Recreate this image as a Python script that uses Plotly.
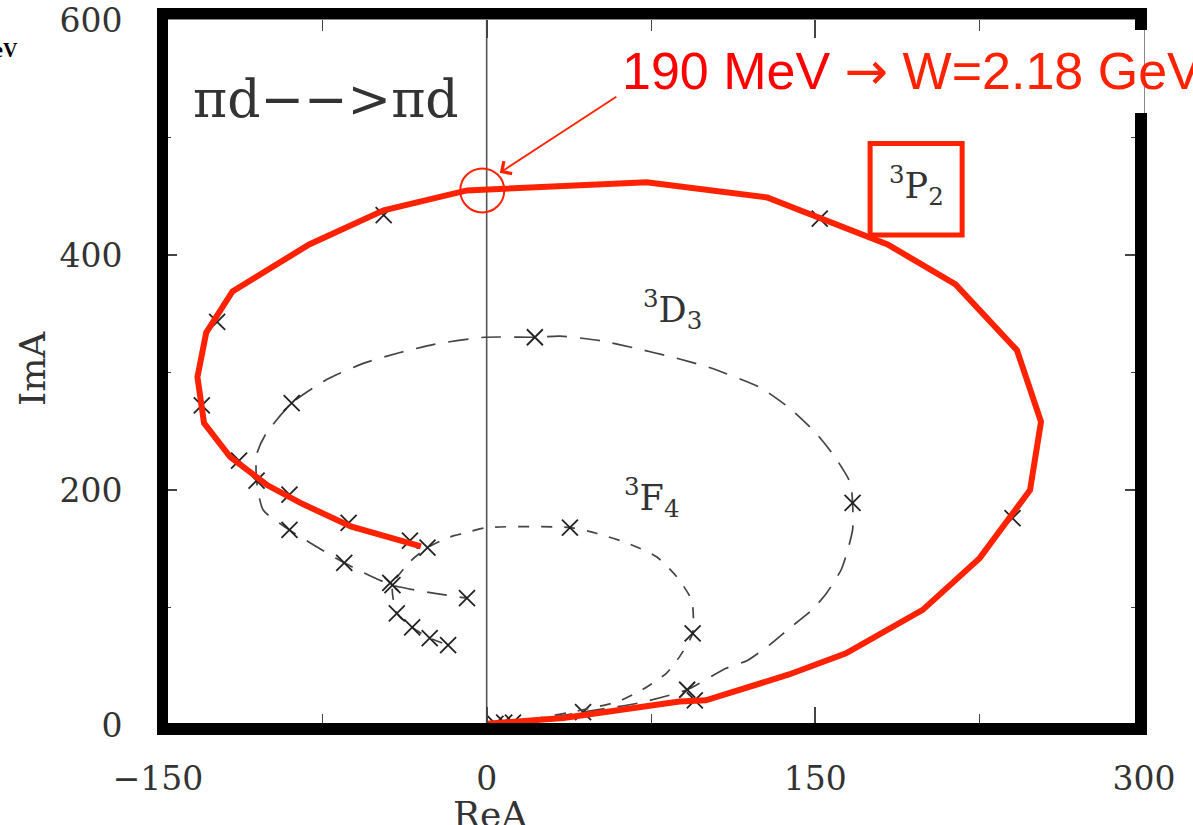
import plotly.graph_objects as go

# ---------------- data ----------------
# 3P2 partial-wave amplitude (red, traced)
p2_re = [0, 35, 88, 100, 138, 164, 199, 225, 248, 253, 242, 214, 183, 128, 73, -9, -47, -81,
         -116, -128, -132, -129, -117, -100, -85, -62, -30]
p2_im = [1, 6, 20, 21, 43, 61, 98, 142, 200, 258, 319, 375, 409, 449, 462, 455, 438, 409,
         369, 334, 296, 257, 228, 204, 189, 169, 152]
# original black crosses of 3P2 (partly under the red line)
p2_mark_re = [4, 12, 95, 152, 240, -47, -123, -130, -113, -90, -63, -35]
p2_mark_im = [1, 2, 21, 431, 176, 434, 343, 272, 225, 196, 172, 157]

# 3D3 amplitude (long dashes)
d3_re = [0, 24, 44, 70, 91.5, 109, 119, 129, 138, 148.5, 155, 162, 167, 167, 166, 159, 150, 138,
         125, 102, 85, 67, 52, 33.5, 22, -1, -24, -39.5, -56, -73, -89, -101, -105, -105, -102,
         -90, -65, -43, -9]
d3_im = [1, 5, 11, 19, 30, 48, 55, 68, 82, 98, 112, 133, 166, 189, 206, 228, 249, 270,
         287, 304, 313, 321, 327, 331, 330, 330, 324, 317, 308, 294, 274, 247, 230, 208, 183,
         166, 138, 119, 108]
d3_mark_re = [44, 91.5, 167, 22, -89, -105, -90, -65, -43, -9]
d3_mark_im = [11, 30, 189, 330, 274, 208, 166, 138, 119, 108]

# 3F4 amplitude (short dashes)
f4_re = [0, 24, 44, 60, 71, 82, 88, 94, 93.6, 86.8, 77.7, 64, 50.4, 38, 0, -10.8, -16.8, -27,
         -35, -43, -41, -34, -26, -17.6]
f4_im = [0, 6, 13, 20, 30, 44, 58, 78, 106, 126, 143, 155, 163, 168, 168, 163, 160, 151,
         139, 119, 95, 83, 74, 68]
f4_mark_re = [8, 94, 38, -27, -44, -41, -34, -26, -17.6]
f4_mark_im = [2, 78, 168, 151, 121, 95, 83, 74, 68]

x_range = [-150, 300]
y_range = [0, 600]
x_dtick, x_minor = 150, 75
y_dtick, y_minor = 200, 100

highlight_re, highlight_im = -2, 455        # 190 MeV point (W = 2.18 GeV)
p2_box = [175, 217, 417, 495]                # red box round the 3P2 label

RED = "#FF2200"
INK = "#333333"

# ---------------- page geometry ----------------
W, H = 1193, 825
PL, PR, PT, PB = 158, 1144, 20, 725


def pxx(px):
    return (px - PL) / (PR - PL)


def pxy(py):
    return (PB - py) / (PB - PT)


fig = go.Figure()

cross = dict(symbol="x-thin", size=16, line=dict(width=1.8, color="#222222"), color="#222222")

fig.add_trace(go.Scatter(x=d3_re, y=d3_im, mode="lines", line=dict(color="#444444", width=1.7,
                                                                      dash="20px,13px", shape="spline", smoothing=0.6),
                         hoverinfo="skip"))
fig.add_trace(go.Scatter(x=d3_mark_re, y=d3_mark_im, mode="markers", marker=cross, hoverinfo="skip"))
fig.add_trace(go.Scatter(x=f4_re, y=f4_im, mode="lines", line=dict(color="#444444", width=1.7,
                                                                      dash="11px,12px", shape="spline", smoothing=0.6),
                         hoverinfo="skip"))
fig.add_trace(go.Scatter(x=f4_mark_re, y=f4_mark_im, mode="markers", marker=cross, hoverinfo="skip"))
fig.add_trace(go.Scatter(x=p2_mark_re, y=p2_mark_im, mode="markers", marker=cross, hoverinfo="skip"))
fig.add_trace(go.Scatter(x=p2_re, y=p2_im, mode="lines", line=dict(color=RED, width=6), hoverinfo="skip"))

shapes = []
# vertical line ReA = 0
shapes.append(dict(type="line", xref="x", yref="paper", x0=0, x1=0, y0=0, y1=1,
                   line=dict(color="#555555", width=1.6), layer="below"))
# thick black frame (paper coords from pixel positions)
frame = dict(color="black", width=11)
shapes += [
    dict(type="line", xref="paper", yref="paper", x0=pxx(157), x1=pxx(1147), y0=pxy(13.5), y1=pxy(13.5), line=frame),
    dict(type="line", xref="paper", yref="paper", x0=pxx(162.5), x1=pxx(162.5), y0=pxy(8), y1=pxy(735), line=frame),
    dict(type="line", xref="paper", yref="paper", x0=pxx(157), x1=pxx(1147), y0=pxy(729), y1=pxy(729),
         line=dict(color="black", width=12)),
    dict(type="line", xref="paper", yref="paper", x0=pxx(1141), x1=pxx(1141), y0=pxy(113), y1=pxy(735),
         line=dict(color="black", width=12)),
    dict(type="line", xref="paper", yref="paper", x0=pxx(1141), x1=pxx(1141), y0=pxy(8), y1=pxy(30),
         line=dict(color="black", width=12)),
]
# red circle round the highlighted point (22 px radius)
rx = 22 / ((PR - PL) / (x_range[1] - x_range[0]))
ry = 22 / ((PB - PT) / (y_range[1] - y_range[0]))
shapes.append(dict(type="circle", xref="x", yref="y", x0=highlight_re - rx, x1=highlight_re + rx,
                   y0=highlight_im - ry, y1=highlight_im + ry, line=dict(color=RED, width=2)))
# red box round the 3P2 label
shapes.append(dict(type="rect", xref="x", yref="y", x0=p2_box[0], x1=p2_box[1], y0=p2_box[2], y1=p2_box[3],
                   line=dict(color=RED, width=5)))

serif = "DejaVu Serif"
C = dict(xanchor="center", yanchor="middle", showarrow=False)
ann = []
ann.append(dict(xref="x", yref="y", x=(p2_box[0] + p2_box[1]) / 2, y=(p2_box[2] + p2_box[3]) / 2 + 3,
                text="<sup>3</sup>P<sub>2</sub>", font=dict(family=serif, size=35, color=INK), **C))
ann.append(dict(xref="x", yref="y", x=85, y=354, text="<sup>3</sup>D<sub>3</sub>",
                font=dict(family=serif, size=35, color=INK), **C))
ann.append(dict(xref="x", yref="y", x=75, y=194, text="<sup>3</sup>F<sub>4</sub>",
                font=dict(family=serif, size=35, color=INK), **C))
ann.append(dict(xref="paper", yref="paper", x=pxx(326), y=pxy(99), text="πd−−>πd",
                font=dict(family=serif, size=52, color=INK), **C))
# axis titles
ann.append(dict(xref="paper", yref="paper", x=pxx(32), y=pxy(368), text="ImA", textangle=-90,
                font=dict(family=serif, size=36, color=INK), **C))
ann.append(dict(xref="paper", yref="paper", x=pxx(490), y=pxy(814), text="ReA",
                font=dict(family=serif, size=36, color=INK), **C))
# fragment at top-left
ann.append(dict(xref="paper", yref="paper", x=pxx(20), y=pxy(50), xanchor="right", yanchor="middle",
                text="<b>eV</b>", showarrow=False,
                font=dict(family="Liberation Serif", size=20, color="black")))
# arrow pointing at the circle
ann.append(dict(xref="x", yref="y", x=highlight_re + 8, y=highlight_im + 15, ax=118, ay=-77, text="",
                showarrow=True, arrowhead=4, arrowsize=1.6, arrowwidth=1.8, arrowcolor=RED, standoff=0))
# red annotation text
ann.append(dict(xref="paper", yref="paper", x=pxx(620), y=pxy(71), xanchor="left", yanchor="middle",
                text="<span style='color:#FF0000'>190 MeV</span> "
                     "<span style='font-family:DejaVu Sans'>→</span> W=2.18 GeV",
                showarrow=False, font=dict(family="Liberation Sans", size=52, color=RED)))

axis_common = dict(showgrid=False, zeroline=False, showline=True, linewidth=1, linecolor="#888888",
                   mirror="allticks", ticks="inside", tickcolor="#444444", tickwidth=1.6, automargin=False,
                   tickfont=dict(family=serif, size=33, color=INK))

fig.update_layout(
    width=W, height=H,
    margin=dict(l=PL, r=W - PR, t=PT, b=H - PB, pad=0, autoexpand=False),
    paper_bgcolor="white", plot_bgcolor="white",
    showlegend=False,
    shapes=shapes, annotations=ann,
    xaxis=dict(range=x_range, tick0=0, dtick=x_dtick, ticklen=18, ticklabelstandoff=24,
               minor=dict(dtick=x_minor, tick0=0, ticks="inside", ticklen=11, tickcolor="#444444", tickwidth=1.4),
               **axis_common),
    yaxis=dict(range=y_range, tick0=0, dtick=y_dtick, ticklen=19, ticklabelstandoff=28,
               minor=dict(dtick=y_minor, tick0=0, ticks="inside", ticklen=13, tickcolor="#444444", tickwidth=1.4),
               **axis_common),
)

fig.write_html("out.html")
